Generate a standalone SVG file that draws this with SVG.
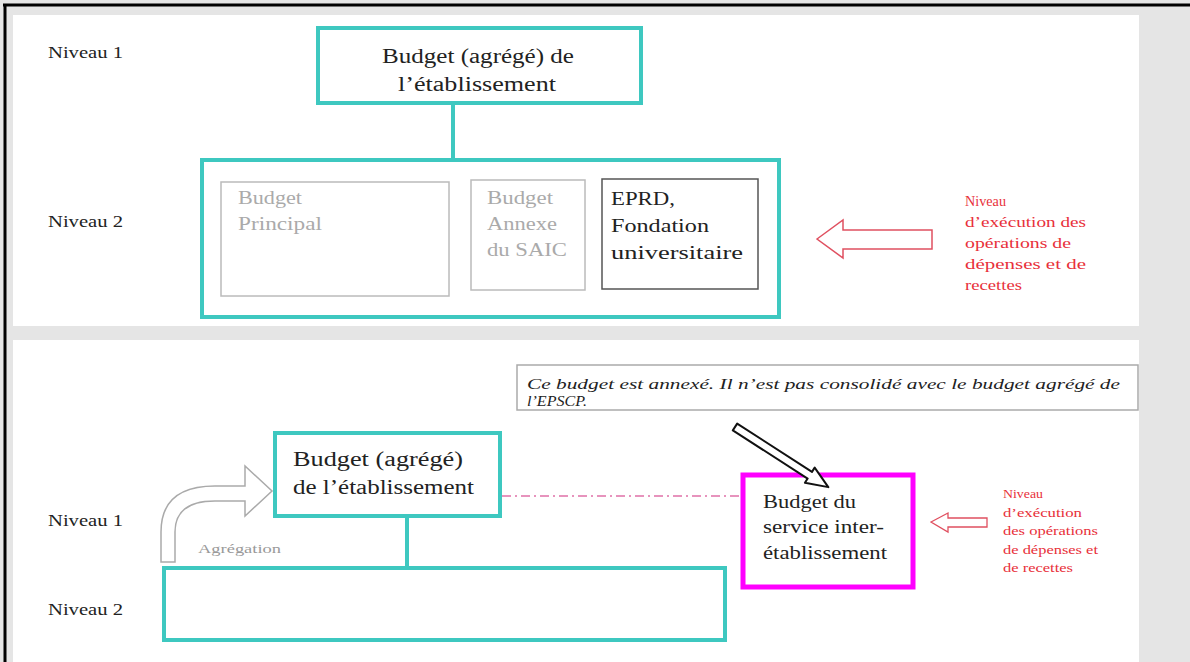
<svg xmlns="http://www.w3.org/2000/svg" width="1190" height="662" viewBox="0 0 1190 662">
<style>
text{font-family:"Liberation Serif",serif}
.lbl{font-size:16px;fill:#222}
.teal{fill:#fff;stroke:#3ec8c0;stroke-width:4}
.tealline{stroke:#3ec8c0;stroke-width:4;fill:none}
.t20{font-size:20px;fill:#222}
.t19{font-size:19px;fill:#222}
.t18{font-size:18px;fill:#222}
.grey{font-size:18px;fill:#aaa}
.red13{font-size:14px;fill:#e8303a}
.red11{font-size:12px;fill:#e8303a}
.ital{font-size:15px;font-style:italic;fill:#222}
</style>
<rect x="0" y="0" width="1190" height="662" fill="#e5e5e5"/>
<rect x="13" y="15" width="1126" height="311" fill="#fff"/>
<rect x="13" y="340" width="1126" height="322" fill="#fff"/>
<line x1="3" y1="5" x2="1190" y2="5" stroke="#000" stroke-width="3"/>
<line x1="5" y1="4" x2="5" y2="662" stroke="#000" stroke-width="3"/>

<g id="labels">
<text class="lbl" x="48" y="58" textLength="75" lengthAdjust="spacingAndGlyphs">Niveau 1</text>
<text class="lbl" x="48" y="227" textLength="75" lengthAdjust="spacingAndGlyphs">Niveau 2</text>
<text class="lbl" x="48" y="526" textLength="75" lengthAdjust="spacingAndGlyphs">Niveau 1</text>
<text class="lbl" x="48" y="615" textLength="75" lengthAdjust="spacingAndGlyphs">Niveau 2</text>
</g>

<g id="top-agg">
<rect class="teal" x="318" y="28" width="323" height="75"/>
<text class="t20" x="382" y="63" textLength="192" lengthAdjust="spacingAndGlyphs">Budget (agrégé) de</text>
<text class="t20" x="398" y="91" textLength="158" lengthAdjust="spacingAndGlyphs">l’établissement</text>
</g>

<g id="top-level2">
<rect class="teal" x="202" y="160" width="577" height="157"/>
</g>

<g id="budget-principal">
<rect x="221" y="182" width="228" height="114" fill="#fff" stroke="#bbb" stroke-width="1.5"/>
<text class="grey" x="238" y="204" textLength="64" lengthAdjust="spacingAndGlyphs">Budget</text>
<text class="grey" x="238" y="230" textLength="84" lengthAdjust="spacingAndGlyphs">Principal</text>
</g>

<g id="budget-annexe">
<rect x="471" y="180" width="114" height="110" fill="#fff" stroke="#bbb" stroke-width="1.5"/>
<text class="grey" x="487" y="204" textLength="66" lengthAdjust="spacingAndGlyphs">Budget</text>
<text class="grey" x="487" y="230" textLength="70" lengthAdjust="spacingAndGlyphs">Annexe</text>
<text class="grey" x="487" y="256" textLength="80" lengthAdjust="spacingAndGlyphs">du SAIC</text>
</g>

<g id="eprd">
<rect x="602" y="179" width="156" height="110" fill="#fff" stroke="#555" stroke-width="1.5"/>
<text class="t19" x="611" y="205" textLength="64" lengthAdjust="spacingAndGlyphs">EPRD,</text>
<text class="t19" x="611" y="232" textLength="98" lengthAdjust="spacingAndGlyphs">Fondation</text>
<text class="t19" x="611" y="259" textLength="132" lengthAdjust="spacingAndGlyphs">universitaire</text>
</g>

<g id="note-top">
<text class="red13" x="965" y="206" textLength="41" lengthAdjust="spacingAndGlyphs">Niveau</text>
<text class="red13" x="965" y="227" textLength="121" lengthAdjust="spacingAndGlyphs">d’exécution des</text>
<text class="red13" x="965" y="248" textLength="106" lengthAdjust="spacingAndGlyphs">opérations de</text>
<text class="red13" x="965" y="269" textLength="121" lengthAdjust="spacingAndGlyphs">dépenses et de</text>
<text class="red13" x="965" y="290" textLength="57" lengthAdjust="spacingAndGlyphs">recettes</text>
</g>

<g id="annotation">
<rect x="517" y="365" width="621" height="45" fill="#fff" stroke="#aaa" stroke-width="1.5"/>
<text class="ital" x="527" y="389" textLength="593" lengthAdjust="spacingAndGlyphs">Ce budget est annexé. Il n’est pas consolidé avec le budget agrégé de</text>
<text class="ital" x="527" y="406" textLength="60" lengthAdjust="spacingAndGlyphs">l’EPSCP.</text>
</g>

<g id="bottom-agg">
<rect class="teal" x="275" y="433" width="225" height="83"/>
<text class="t20" x="293" y="466" textLength="170" lengthAdjust="spacingAndGlyphs">Budget (agrégé)</text>
<text class="t20" x="293" y="494" textLength="181" lengthAdjust="spacingAndGlyphs">de l’établissement</text>
</g>

<g id="agregation">
<text x="198" y="553" font-size="12.5" fill="#999" textLength="83" lengthAdjust="spacingAndGlyphs">Agrégation</text>
</g>

<g id="bottom-level2">
<rect class="teal" x="164" y="568" width="561" height="72"/>
</g>

<g id="service-inter">
<rect x="743" y="475" width="170" height="112" fill="#fff" stroke="#ff00ff" stroke-width="5"/>
<text class="t18" x="763" y="508" textLength="93" lengthAdjust="spacingAndGlyphs">Budget du</text>
<text class="t18" x="763" y="533" textLength="121" lengthAdjust="spacingAndGlyphs">service inter-</text>
<text class="t18" x="763" y="559" textLength="124" lengthAdjust="spacingAndGlyphs">établissement</text>
</g>

<g id="note-bottom">
<text class="red11" x="1003" y="498" textLength="40" lengthAdjust="spacingAndGlyphs">Niveau</text>
<text class="red11" x="1003" y="517" textLength="79" lengthAdjust="spacingAndGlyphs">d’exécution</text>
<text class="red11" x="1003" y="535" textLength="95" lengthAdjust="spacingAndGlyphs">des opérations</text>
<text class="red11" x="1003" y="554" textLength="95" lengthAdjust="spacingAndGlyphs">de dépenses et</text>
<text class="red11" x="1003" y="572" textLength="70" lengthAdjust="spacingAndGlyphs">de recettes</text>
</g>

<g id="connectors">
<line class="tealline" x1="453" y1="105" x2="453" y2="158"/>
<line class="tealline" x1="407" y1="518" x2="407" y2="566"/>
<line x1="502" y1="496" x2="740" y2="496" stroke="#e070a8" stroke-width="1.3" stroke-dasharray="9 4 2 4"/>
<polygon points="0,-4 89,-4 89,-9 111,0 89,9 89,4 0,4" fill="#fff" stroke="#111" stroke-width="2" stroke-linejoin="round" transform="translate(735,427) rotate(32.8)"/>
<path d="M161,562 L161,532 Q161,486 215,486 L245,486 L245,466 L272,491 L245,516 L245,501 L215,501 Q175,501 175,532 L175,562 Z" fill="#fff" stroke="#aaa" stroke-width="1.5"/>
<polygon points="817,239 843,220 843,230 932,230 932,249 843,249 843,258" fill="#fff" stroke="#e05060" stroke-width="1.5"/>
<polygon points="931,522 948,513 948,518 987,518 987,527 948,527 948,532" fill="#fff" stroke="#e05060" stroke-width="1.3"/>
</g>
</svg>
